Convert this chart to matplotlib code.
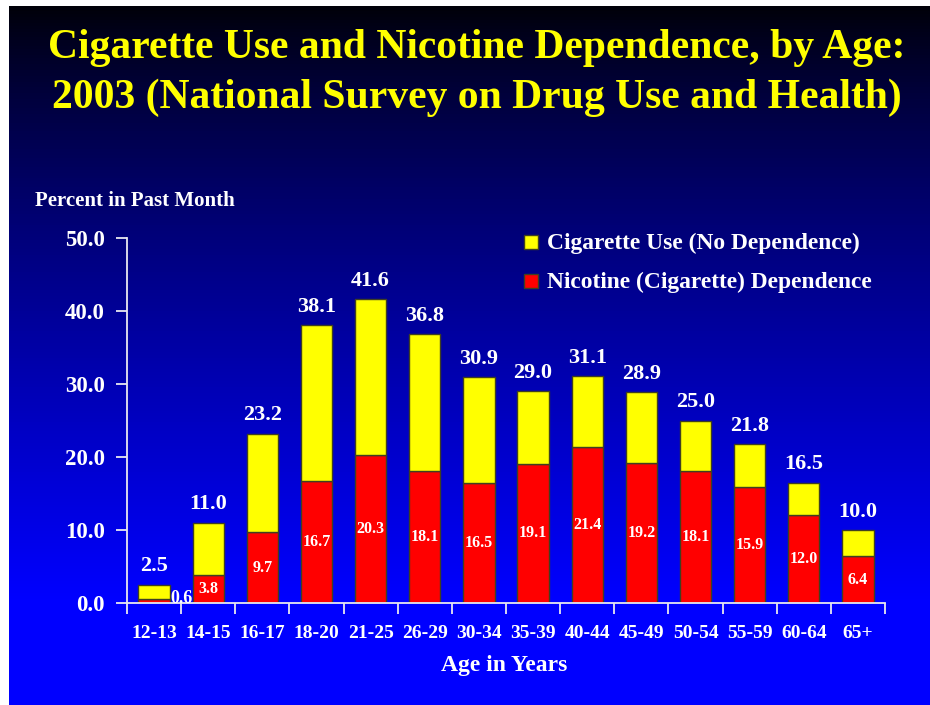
import numpy as np
import matplotlib
matplotlib.use("Agg")
import matplotlib.pyplot as plt
from matplotlib.patches import Rectangle

categories = ["12-13", "14-15", "16-17", "18-20", "21-25", "26-29", "30-34",
              "35-39", "40-44", "45-49", "50-54", "55-59", "60-64", "65+"]
total_use = [2.5, 11.0, 23.2, 38.1, 41.6, 36.8, 30.9, 29.0, 31.1, 28.9, 25.0, 21.8, 16.5, 10.0]
dependence = [0.6, 3.8, 9.7, 16.7, 20.3, 18.1, 16.5, 19.1, 21.4, 19.2, 18.1, 15.9, 12.0, 6.4]
yticks = [0.0, 10.0, 20.0, 30.0, 40.0, 50.0]
legend_labels = ["Cigarette Use (No Dependence)", "Nicotine (Cigarette) Dependence"]
colors = ["#ffff00", "#ff0000"]

no_dep = [t - d for t, d in zip(total_use, dependence)]

SERIF = ["Liberation Serif", "DejaVu Serif"]
W, H = 930, 705
fig = plt.figure(figsize=(W / 100, H / 100), dpi=100, facecolor="#0000ff")

# gradient background drawn as thin horizontal strips in figure coordinates
nstrip = 240
edges = np.linspace(0, 1, nstrip + 1)  # fraction from top
for k in range(nstrip):
    top = edges[k]
    mid = (edges[k] + edges[k + 1]) / 2
    b = min(mid / 0.85, 1.0) ** 0.8
    fig.patches.append(Rectangle((0, 1 - edges[k + 1] - 0.001), 1, edges[k + 1] - top + 0.002,
                                 transform=fig.transFigure, facecolor=(0, 0, b),
                                 edgecolor="none", zorder=0))
fig.patches.append(Rectangle((0, 0), 9 / W, 1, transform=fig.transFigure,
                             facecolor="white", edgecolor="none", zorder=1))
fig.patches.append(Rectangle((0, 1 - 6 / H), 1, 6 / H, transform=fig.transFigure,
                             facecolor="white", edgecolor="none", zorder=1))

ax = fig.add_axes([127 / W, 1 - 603 / H, (885 - 127) / W, (603 - 238) / H])
ax.set_zorder(10)
ax.set_facecolor("none")
x = np.arange(len(categories))
bw = 0.58
ax.bar(x, dependence, bw, color=colors[1], edgecolor="#404020", linewidth=1.0)
ax.bar(x, no_dep, bw, bottom=dependence, color=colors[0], edgecolor="#404020", linewidth=1.0)

ax.set_xlim(-0.5, len(categories) - 0.5)
ax.set_ylim(0, 50)
for s in ["top", "right"]:
    ax.spines[s].set_visible(False)
for s in ["left", "bottom"]:
    ax.spines[s].set_color("#e8e8f0")
    ax.spines[s].set_linewidth(1.3)

ax.set_yticks(yticks)
ax.set_yticklabels([f"{v:.1f}" for v in yticks], fontfamily=SERIF, fontweight="bold",
                   fontsize=16.5, color="white")
ax.tick_params(axis="y", colors="#e8e8f0", length=8, width=1.3, pad=8)
for lab in ax.get_yticklabels():
    lab.set_color("white")

ax.set_xticks(x)
ax.set_xticklabels(categories, fontfamily=SERIF, fontweight="bold", fontsize=14, color="white")
ax.tick_params(axis="x", length=0, pad=16)
ax.set_xticks(np.arange(-0.5, len(categories), 1), minor=True)
ax.tick_params(axis="x", which="minor", length=8, width=1.3, colors="#e8e8f0")

for i, (t, d) in enumerate(zip(total_use, dependence)):
    ax.annotate(f"{t:.1f}", (i, t), xytext=(0, 6), textcoords="offset points",
                ha="center", va="bottom", color="white", fontfamily=SERIF,
                fontweight="bold", fontsize=16)
    if d < 2:
        ax.text(i + 0.5, d / 2 + 0.3, f"{d:.1f}", ha="center", va="center", color="white",
                fontfamily=SERIF, fontweight="bold", fontsize=13)
    else:
        ax.text(i, d / 2, f"{d:.1f}", ha="center", va="center", color="white",
                fontfamily=SERIF, fontweight="bold", fontsize=11.5)

fig.text(504 / W, 1 - 665 / H, "Age in Years", ha="center", va="center",
         fontfamily=SERIF, fontweight="bold", fontsize=17, color="white", zorder=11)

fig.text(35 / W, 1 - 201 / H, "Percent in Past Month", ha="left", va="center",
         fontfamily=SERIF, fontweight="bold", fontsize=15, color="white", zorder=11)

fig.text(477 / W, 1 - 48 / H, "Cigarette Use and Nicotine Dependence, by Age:",
         ha="center", va="center", fontfamily=SERIF, fontweight="bold", fontsize=30,
         color="#ffff00", zorder=11)
fig.text(477 / W, 1 - 98 / H, "2003 (National Survey on Drug Use and Health)",
         ha="center", va="center", fontfamily=SERIF, fontweight="bold", fontsize=30,
         color="#ffff00", zorder=11)

# legend
for lab, col, yc in zip(legend_labels, colors, [242, 281]):
    fig.patches.append(Rectangle((524 / W, 1 - (yc + 7) / H), 14 / W, 14 / H,
                                 transform=fig.transFigure, facecolor=col,
                                 edgecolor="#404020", linewidth=1.0, zorder=11))
    fig.text(547 / W, 1 - (yc + 1) / H, lab, ha="left", va="center",
             fontfamily=SERIF, fontweight="bold", fontsize=16.9, color="white", zorder=11)

fig.savefig("out.png", dpi=100, facecolor="#0000ff")
